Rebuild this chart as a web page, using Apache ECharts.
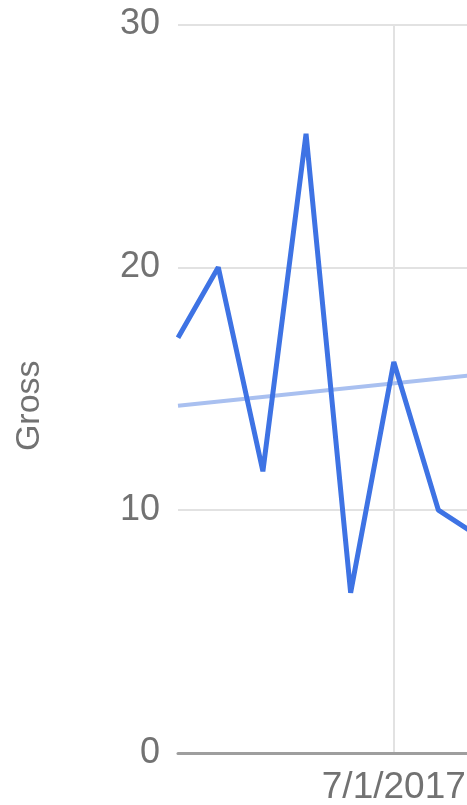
<!DOCTYPE html>
<html>
<head>
<meta charset="utf-8">
<script src="https://cdn.jsdelivr.net/npm/echarts@6/dist/echarts.min.js"></script>
<style>
  html, body { margin: 0; padding: 0; background: #fff; }
  #chart { width: 467px; height: 805px; }
</style>
</head>
<body>
<div id="chart"></div>
<script>
// Monthly gross, first of each month
const dates = ['2017-02-01', '2017-03-01', '2017-04-01', '2017-05-01', '2017-06-01',
               '2017-07-01', '2017-08-01', '2017-09-01'];
const gross = [17.1, 20.0, 11.6, 25.5, 6.6, 16.1, 10.0, 8.8];

// Linear trend, evaluated at the ends of the range
const trendDates = ['2017-02-01', '2017-09-01'];
const trendValues = [14.3, 15.6];

// Axis ticks
const yTicks = [0, 10, 20, 30];
const xTickDates = ['2017-07-01'];

const font = 'Arial, "Liberation Sans", sans-serif';
const textColor = '#727272';

const ts = d => new Date(d + 'T00:00:00Z').getTime();

const chart = echarts.init(document.getElementById('chart'), null, { renderer: 'canvas' });

chart.setOption({
  animation: false,
  backgroundColor: '#fff',
  // the plot runs on past the right edge of the view
  grid: { left: 178, top: 24.5, width: 305, bottom: 52, containLabel: false, outerBoundsMode: 'none' },
  xAxis: {
    type: 'value',
    min: ts(dates[0]),
    max: ts(dates[dates.length - 1]),
    axisLine: { show: true, lineStyle: { color: '#9e9e9e', width: 3 } },
    axisTick: { show: false, customValues: xTickDates.map(ts) },
    axisLabel: {
      customValues: xTickDates.map(ts),
      color: textColor,
      fontSize: 37,
      fontFamily: font,
      margin: 16,
      formatter: v => {
        const d = new Date(v);
        return (d.getUTCMonth() + 1) + '/' + d.getUTCDate() + '/' + d.getUTCFullYear();
      }
    },
    splitLine: { show: true, lineStyle: { color: '#e2e2e2', width: 2 } }
  },
  yAxis: {
    type: 'value',
    min: yTicks[0],
    max: yTicks[yTicks.length - 1],
    interval: 10,
    name: 'Gross',
    nameLocation: 'middle',
    nameRotate: 90,
    nameGap: 131,
    nameTextStyle: { color: textColor, fontSize: 34, fontFamily: font, padding: [0, 34, 0, 0] },
    axisLine: { show: false },
    axisTick: { show: false },
    axisLabel: { color: textColor, fontSize: 36, fontFamily: font, margin: 18 },
    splitLine: { show: true, lineStyle: { color: '#e2e2e2', width: 2 } }
  },
  series: [
    {
      name: 'Trend',
      type: 'line',
      data: trendDates.map((d, i) => [ts(d), trendValues[i]]),
      symbol: 'none',
      lineStyle: { color: '#a9c0f0', width: 4 },
      z: 2
    },
    {
      name: 'Gross',
      type: 'line',
      data: dates.map((d, i) => [ts(d), gross[i]]),
      symbol: 'none',
      lineStyle: { color: '#3e73e4', width: 5 },
      z: 3
    }
  ]
});
</script>
</body>
</html>
